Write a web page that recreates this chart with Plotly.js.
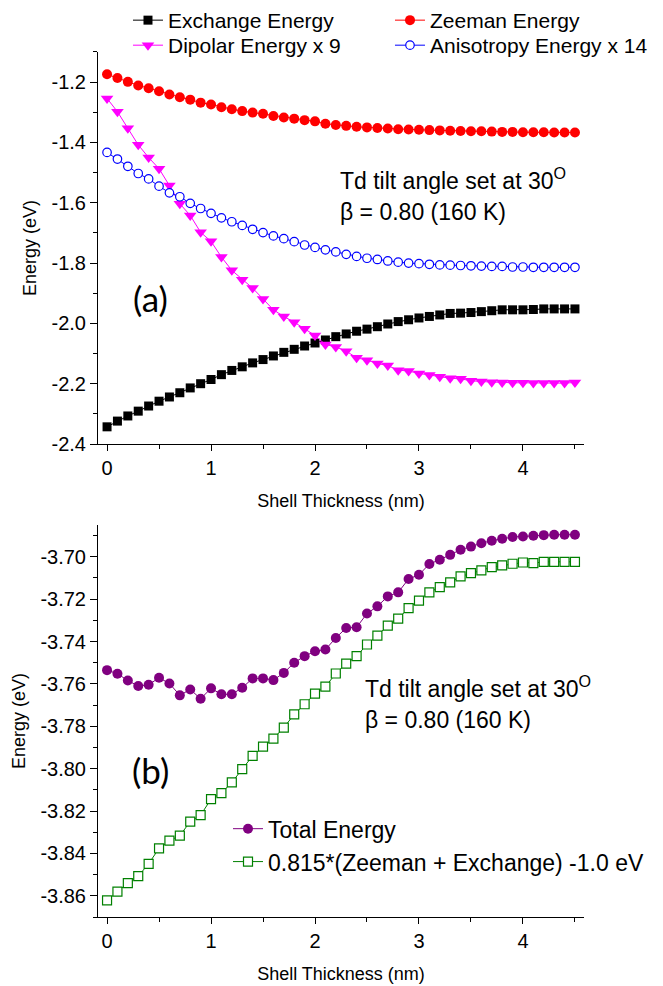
<!DOCTYPE html>
<html>
<head>
<meta charset="utf-8">
<script src="https://cdn.plot.ly/plotly-3.0.1.min.js"></script>
<style>html,body{margin:0;padding:0;background:#fff;}#chart{width:663px;height:986px;}</style>
</head>
<body>
<div id="chart"></div>
<script>
// Shell thickness (nm)
const thickness = [0,0.1,0.2,0.3,0.4,0.5,0.6,0.7,0.8,0.9,1.0,1.1,1.2,1.3,1.4,1.5,1.6,1.7,1.8,1.9,2.0,2.1,2.2,2.3,2.4,2.5,2.6,2.7,2.8,2.9,3.0,3.1,3.2,3.3,3.4,3.5,3.6,3.7,3.8,3.9,4.0,4.1,4.2,4.3,4.4,4.5];

// Panel (a)
const exchangeEnergy = [-2.343,-2.324,-2.307,-2.291,-2.274,-2.258,-2.244,-2.230,-2.214,-2.200,-2.186,-2.170,-2.156,-2.144,-2.131,-2.120,-2.108,-2.096,-2.086,-2.075,-2.065,-2.055,-2.044,-2.035,-2.026,-2.019,-2.011,-2.002,-1.994,-1.988,-1.982,-1.977,-1.972,-1.967,-1.966,-1.964,-1.961,-1.958,-1.955,-1.955,-1.955,-1.954,-1.952,-1.952,-1.952,-1.952];
const zeemanEnergy = [-1.174,-1.186,-1.199,-1.211,-1.220,-1.230,-1.241,-1.250,-1.258,-1.268,-1.274,-1.283,-1.290,-1.296,-1.301,-1.305,-1.312,-1.317,-1.321,-1.326,-1.330,-1.338,-1.342,-1.345,-1.348,-1.350,-1.352,-1.354,-1.356,-1.357,-1.358,-1.359,-1.360,-1.361,-1.362,-1.363,-1.363,-1.364,-1.365,-1.365,-1.366,-1.366,-1.366,-1.367,-1.367,-1.367];
const dipolarEnergyX9 = [-1.254,-1.298,-1.353,-1.408,-1.450,-1.487,-1.543,-1.603,-1.642,-1.698,-1.728,-1.780,-1.824,-1.855,-1.883,-1.919,-1.955,-1.977,-1.996,-2.018,-2.040,-2.070,-2.078,-2.092,-2.114,-2.122,-2.133,-2.140,-2.155,-2.158,-2.166,-2.171,-2.177,-2.182,-2.184,-2.190,-2.193,-2.195,-2.196,-2.197,-2.197,-2.198,-2.198,-2.198,-2.198,-2.196];
const anisotropyEnergyX14 = [-1.433,-1.455,-1.479,-1.503,-1.521,-1.545,-1.567,-1.580,-1.602,-1.619,-1.635,-1.650,-1.663,-1.675,-1.688,-1.699,-1.710,-1.719,-1.729,-1.740,-1.748,-1.756,-1.763,-1.771,-1.778,-1.784,-1.788,-1.793,-1.797,-1.800,-1.802,-1.804,-1.806,-1.807,-1.808,-1.809,-1.810,-1.811,-1.811,-1.813,-1.813,-1.814,-1.814,-1.814,-1.814,-1.814];

// Panel (b)
const totalEnergy = [-3.7535,-3.7552,-3.7584,-3.7610,-3.7604,-3.7571,-3.7598,-3.7654,-3.7626,-3.7670,-3.7621,-3.7649,-3.7649,-3.7618,-3.7574,-3.7574,-3.7582,-3.7548,-3.7500,-3.7469,-3.7446,-3.7438,-3.7383,-3.7336,-3.7333,-3.7268,-3.7234,-3.7187,-3.7168,-3.7105,-3.7085,-3.7034,-3.7014,-3.6991,-3.6967,-3.6952,-3.6936,-3.6924,-3.6915,-3.6907,-3.6904,-3.6901,-3.6898,-3.6896,-3.6896,-3.6896];
const scaledZeemanExchange = [-3.8622,-3.8580,-3.8540,-3.8507,-3.8449,-3.8376,-3.8340,-3.8316,-3.8250,-3.8219,-3.8144,-3.8115,-3.8065,-3.8002,-3.7940,-3.7896,-3.7858,-3.7806,-3.7744,-3.7696,-3.7646,-3.7613,-3.7551,-3.7504,-3.7469,-3.7414,-3.7372,-3.7325,-3.7292,-3.7242,-3.7207,-3.7168,-3.7143,-3.7121,-3.7093,-3.7077,-3.7064,-3.7049,-3.7041,-3.7033,-3.7027,-3.7030,-3.7024,-3.7024,-3.7024,-3.7024];

// Tick labels
const xTickVals = [0,1,2,3,4];
const xTickText = ["0","1","2","3","4"];
const yTopTickVals = [-2.4,-2.2,-2.0,-1.8,-1.6,-1.4,-1.2];
const yTopTickText = ["-2.4","-2.2","-2.0","-1.8","-1.6","-1.4","-1.2"];
const yBotTickVals = [-3.86,-3.84,-3.82,-3.80,-3.78,-3.76,-3.74,-3.72,-3.70];
const yBotTickText = ["-3.86","-3.84","-3.82","-3.80","-3.78","-3.76","-3.74","-3.72","-3.70"];

const FONT = "Liberation Sans, Arial, sans-serif";

function tr(x, y, name, color, symbol, size, open, xa, ya, legend) {
  return {
    x: x, y: y, name: name, type: 'scatter', mode: 'lines+markers',
    xaxis: xa, yaxis: ya, legend: legend,
    line: {color: color, width: 1},
    marker: {symbol: symbol, size: size, color: open ? '#ffffff' : color,
             line: {color: color, width: open ? 1.2 : 0}}
  };
}

const data = [
  tr(thickness, exchangeEnergy, 'Exchange Energy', '#000000', 'square', 9, false, 'x', 'y', 'legend'),
  tr(thickness, zeemanEnergy, 'Zeeman Energy', '#ff0000', 'circle', 10, false, 'x', 'y', 'legend3'),
  tr(thickness, dipolarEnergyX9, 'Dipolar Energy x 9', '#ff00ff', 'triangle-down', 11, false, 'x', 'y', 'legend4'),
  tr(thickness, anisotropyEnergyX14, 'Anisotropy Energy x 14', '#0000ff', 'circle', 8.5, true, 'x', 'y', 'legend5'),
  tr(thickness, totalEnergy, 'Total Energy', '#800080', 'circle', 10, false, 'x2', 'y2', 'legend2'),
  tr(thickness, scaledZeemanExchange, '0.815*(Zeeman + Exchange) -1.0 eV', '#008000', 'square', 9, true, 'x2', 'y2', 'legend2')
];

function xAxis(anchor) {
  return {
    anchor: anchor, domain: [0, 1], range: [-0.087, 4.587],
    tickmode: 'array', tickvals: xTickVals, ticktext: xTickText,
    ticks: 'outside', ticklen: 6, tickwidth: 1, tickcolor: '#000',
    minor: {dtick: 0.5, tick0: 0, ticks: 'outside', ticklen: 4, tickwidth: 1, tickcolor: '#000'},
    showline: true, linecolor: '#000', linewidth: 1, showgrid: false, zeroline: false,
    tickfont: {family: FONT, size: 20, color: '#000'},
    title: {text: 'Shell Thickness (nm)', font: {family: FONT, size: 18, color: '#000'}, standoff: 16}
  };
}
function yAxis(anchor, domain, range, tv, tt, minorD) {
  return {
    anchor: anchor, domain: domain, range: range,
    tickmode: 'array', tickvals: tv, ticktext: tt,
    ticks: 'outside', ticklen: 7, tickwidth: 1, tickcolor: '#000',
    minor: {dtick: minorD, tick0: 0, ticks: 'outside', ticklen: 4, tickwidth: 1, tickcolor: '#000'},
    showline: true, linecolor: '#000', linewidth: 1, showgrid: false, zeroline: false,
    tickfont: {family: FONT, size: 20, color: '#000'},
    title: {text: 'Energy (eV)', font: {family: FONT, size: 18, color: '#000'}, standoff: 10}
  };
}

const legFont = {family: FONT, size: 21, color: '#000'};
function topLegend(x, y) {
  return {orientation: 'v', x: x, y: y, xanchor: 'left', yanchor: 'top',
          font: legFont, bgcolor: 'rgba(0,0,0,0)'};
}

const annFont = {family: FONT, size: 23, color: '#000'};
const layout = {
  width: 663, height: 986,
  margin: {l: 98, r: 79, t: 0, b: 69},
  paper_bgcolor: '#fff', plot_bgcolor: '#fff',
  showlegend: true,
  xaxis: xAxis('y'),
  yaxis: yAxis('x', [0.5158, 0.9433], [-2.4, -1.1], yTopTickVals, yTopTickText, 0.1),
  xaxis2: xAxis('y2'),
  yaxis2: yAxis('x2', [0, 0.4275], [-3.87, -3.685], yBotTickVals, yBotTickText, 0.01),
  legend: topLegend(0.0617, 1.0),
  legend3: topLegend(0.6008, 1.0),
  legend4: topLegend(0.0617, 0.9727),
  legend5: topLegend(0.6008, 0.9727),
  legend2: {
    orientation: 'v', x: 0.2675, y: 0.1197, xanchor: 'left', yanchor: 'top',
    font: {family: FONT, size: 23, color: '#000'}, bgcolor: 'rgba(0,0,0,0)'
  },
  annotations: [
    {xref: 'paper', yref: 'paper', x: 0.4938, y: 0.8048, xanchor: 'left', yanchor: 'middle', showarrow: false,
     text: 'Td tilt angle set at 30<sup>O</sup>', font: annFont},
    {xref: 'paper', yref: 'paper', x: 0.4938, y: 0.7688, xanchor: 'left', yanchor: 'middle', showarrow: false,
     text: 'β = 0.80 (160 K)', font: annFont},
    {xref: 'paper', yref: 'paper', x: 0.107, y: 0.675, xanchor: 'center', yanchor: 'middle', showarrow: false,
     text: '(a)', font: {family: 'Lato, Open Sans, sans-serif', size: 35, color: '#000'}},
    {xref: 'paper', yref: 'paper', x: 0.5453, y: 0.2508, xanchor: 'left', yanchor: 'middle', showarrow: false,
     text: 'Td tilt angle set at 30<sup>O</sup>', font: annFont},
    {xref: 'paper', yref: 'paper', x: 0.5453, y: 0.2148, xanchor: 'left', yanchor: 'middle', showarrow: false,
     text: 'β = 0.80 (160 K)', font: annFont},
    {xref: 'paper', yref: 'paper', x: 0.107, y: 0.160, xanchor: 'center', yanchor: 'middle', showarrow: false,
     text: '(b)', font: {family: 'Lato, Open Sans, sans-serif', size: 35, color: '#000'}}
  ]
};

Plotly.newPlot('chart', data, layout, {staticPlot: true, displayModeBar: false});
</script>
</body>
</html>
